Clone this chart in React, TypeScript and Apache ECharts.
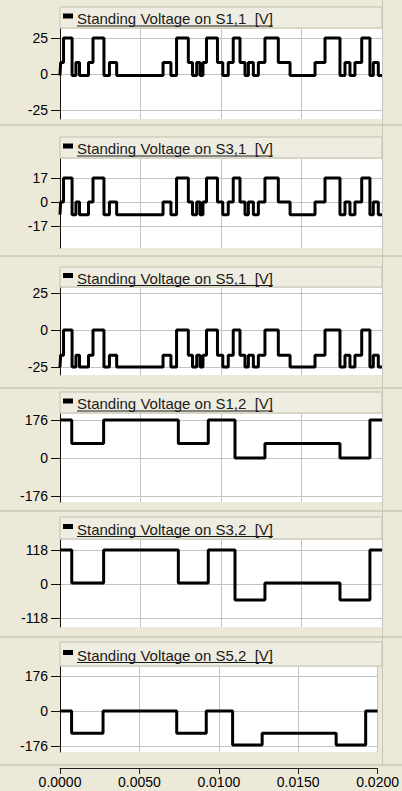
import React, { useEffect, useRef } from "react";
import * as echarts from "echarts";

// ---------- data ----------
const xTickLabels = ["0.0000", "0.0050", "0.0100", "0.0150", "0.0200"];

// Upper three traces (S1,1 / S3,1 / S5,1): switching instants in ms and state after each (0 low, 1 mid, 2 high)
const phaseSwitchMs = [
  0, 0.04, 0.22, 0.75, 0.99, 1.21, 1.77, 2.05, 2.73, 3.07, 3.52, 6.4, 6.89, 7.24, 7.97, 8.23, 8.49, 8.7,
  8.88, 9.1, 9.78, 10.11, 10.45, 10.76, 11.18, 11.49, 11.7, 12.01, 12.32, 12.73, 13.56, 14.29, 15.84,
  16.46, 17.39, 17.7, 18.01, 18.32, 18.74, 19.25, 19.46, 19.77, 20,
];
const phaseState = [
  0, 1, 2, 0, 1, 0, 1, 2, 0, 1, 0, 1, 0, 2, 1, 0, 1, 0,
  1, 2, 1, 0, 1, 2, 1, 0, 1, 0, 1, 2, 1, 0, 1,
  2, 0, 1, 0, 1, 2, 0, 1, 0, 0,
];

// Lower three traces (S1,2 / S3,2 / S5,2)
const lineSwitchMs = [0, 0.73, 2.71, 7.35, 9.21, 10.87, 12.73, 17.39, 19.25, 20];
const lineState = [2, 1, 2, 1, 2, 0, 1, 0, 2, 2];

// voltage levels [low, mid, high] per trace
const levelsS11 = [-1, 8, 25];
const levelsS31 = [-9, 0, 17];
const levelsS51 = [-25, -17, 0];
const levelsS12 = [0, 67, 176];
const levelsS32 = [-55, 4, 118];
const levelsS52 = [-171, -112, 0];

// y tick labels per panel
const ticksS11 = [-25, 0, 25];
const ticksS31 = [-17, 0, 17];
const ticksS51 = [-25, 0, 25];
const ticksS12 = [-176, 0, 176];
const ticksS32 = [-118, 0, 118];
const ticksS52 = [-176, 0, 176];

const titles = [
  "Standing Voltage on S1,1  [V]",
  "Standing Voltage on S3,1  [V]",
  "Standing Voltage on S5,1  [V]",
  "Standing Voltage on S1,2  [V]",
  "Standing Voltage on S3,2  [V]",
  "Standing Voltage on S5,2  [V]",
];

// ---------- layout ----------
const FONT = 'Arial, "Liberation Sans", sans-serif';
const PLOT_LEFT = 60;
const PLOT_W = 322;
const gridTops = [29, 159, 288, 414, 540, 667];
const gridHeights = [90, 89, 87, 88, 87, 85];
const headerTops = [7, 137, 267, 392, 517, 642];
const yRanges = [
  [-31.25, 31.25],
  [-32.6, 30.5],
  [-30.4, 28.4],
  [-204, 204],
  [-149, 153],
  [-206, 221],
];
const separators = [125, 256, 388, 511, 637, 765];

function buildSteps(timesMs: number[], states: number[], levels: number[]) {
  return timesMs.map((t, i) => [t / 1000, levels[states[i]]]);
}

function measure(text: string, font: string) {
  const c = document.createElement("canvas").getContext("2d");
  if (!c) return text.length * 7;
  c.font = font;
  return c.measureText(text).width;
}

export default function App() {
  const ref = useRef<HTMLDivElement>(null);

  useEffect(() => {
    if (!ref.current) return;
    const chart = echarts.init(ref.current, undefined, { renderer: "svg" });

    const panelLevels = [levelsS11, levelsS31, levelsS51, levelsS12, levelsS32, levelsS52];
    const panelTicks = [ticksS11, ticksS31, ticksS51, ticksS12, ticksS32, ticksS52];

    const grids: any[] = [];
    const xAxes: any[] = [];
    const yAxes: any[] = [];
    const series: any[] = [];
    const graphics: any[] = [];

    separators.forEach((y) => {
      graphics.push({
        type: "line",
        shape: { x1: 0, y1: y, x2: 402, y2: y },
        style: { stroke: "#b9b6a6", lineWidth: 1 },
        silent: true,
      });
    });
    graphics.push({
      type: "line",
      shape: { x1: 382.5, y1: 0, x2: 382.5, y2: 765 },
      style: { stroke: "#c9c6b6", lineWidth: 1 },
      silent: true,
    });

    for (let i = 0; i < 6; i++) {
      const last = i === 5;
      grids.push({
        left: PLOT_LEFT,
        width: PLOT_W,
        top: gridTops[i],
        height: gridHeights[i],
        show: true,
        backgroundColor: "#ffffff",
        borderWidth: 0,
      });
      xAxes.push({
        gridIndex: i,
        type: "value",
        min: 0,
        max: 0.02,
        interval: 0.005,
        offset: last ? 16 : 0,
        axisLine: { show: last, onZero: false, lineStyle: { color: "#222", width: 1 } },
        axisTick: { show: last, length: 6, inside: false, lineStyle: { color: "#222" } },
        axisLabel: {
          show: last,
          margin: 7,
          fontSize: 14,
          color: "#000",
          fontFamily: FONT,
          formatter: (v: number) => xTickLabels[Math.round(v / 0.005)] ?? "",
        },
        splitLine: { show: true, lineStyle: { color: "#c3c3c3", width: 1 } },
      });
      yAxes.push({
        gridIndex: i,
        type: "value",
        min: yRanges[i][0],
        max: yRanges[i][1],
        axisLine: { show: true, onZero: false, lineStyle: { color: "#111", width: 1 } },
        axisTick: { show: true, length: 9, customValues: panelTicks[i], lineStyle: { color: "#111" } },
        axisLabel: {
          customValues: panelTicks[i],
          fontSize: 14,
          color: "#000",
          margin: 12,
          fontFamily: FONT,
        },
        splitLine: { show: true, lineStyle: { color: "#c3c3c3", width: 1 } },
      });
      const data =
        i < 3
          ? buildSteps(phaseSwitchMs, phaseState, panelLevels[i])
          : buildSteps(lineSwitchMs, lineState, panelLevels[i]);
      series.push({
        type: "line",
        xAxisIndex: i,
        yAxisIndex: i,
        step: "end",
        showSymbol: false,
        data,
        lineStyle: { color: "#000", width: 3 },
        clip: true,
      });

      // header band
      const hTop = headerTops[i];
      const hH = gridTops[i] - hTop - 1;
      const cy = hTop + hH / 2 + 1;
      graphics.push({
        type: "rect",
        shape: { x: PLOT_LEFT, y: hTop, width: PLOT_W, height: hH },
        style: { fill: "#efede1", stroke: "#c2bfae", lineWidth: 1 },
        silent: true,
      });
      graphics.push({
        type: "rect",
        shape: { x: 63, y: cy - 5, width: 10, height: 5 },
        style: { fill: "#000" },
        silent: true,
      });
      const font = `15px ${FONT}`;
      const w = measure(titles[i], font);
      graphics.push({
        type: "text",
        x: 77,
        y: cy,
        style: {
          text: titles[i],
          font,
          fill: "#1a1a1a",
          verticalAlign: "middle",
          align: "left",
        },
        silent: true,
      });
      graphics.push({
        type: "line",
        shape: { x1: 77, y1: cy + 7.5, x2: 77 + w, y2: cy + 7.5 },
        style: { stroke: "#1a1a1a", lineWidth: 1 },
        silent: true,
      });
    }

    chart.setOption({
      animation: false,
      backgroundColor: "#ECE9D8",
      grid: grids,
      xAxis: xAxes,
      yAxis: yAxes,
      series,
      graphic: { elements: graphics },
    });

    return () => chart.dispose();
  }, []);

  return (
    <div
      ref={ref}
      style={{ position: "fixed", left: 0, top: 0, width: 402, height: 791 }}
    />
  );
}
